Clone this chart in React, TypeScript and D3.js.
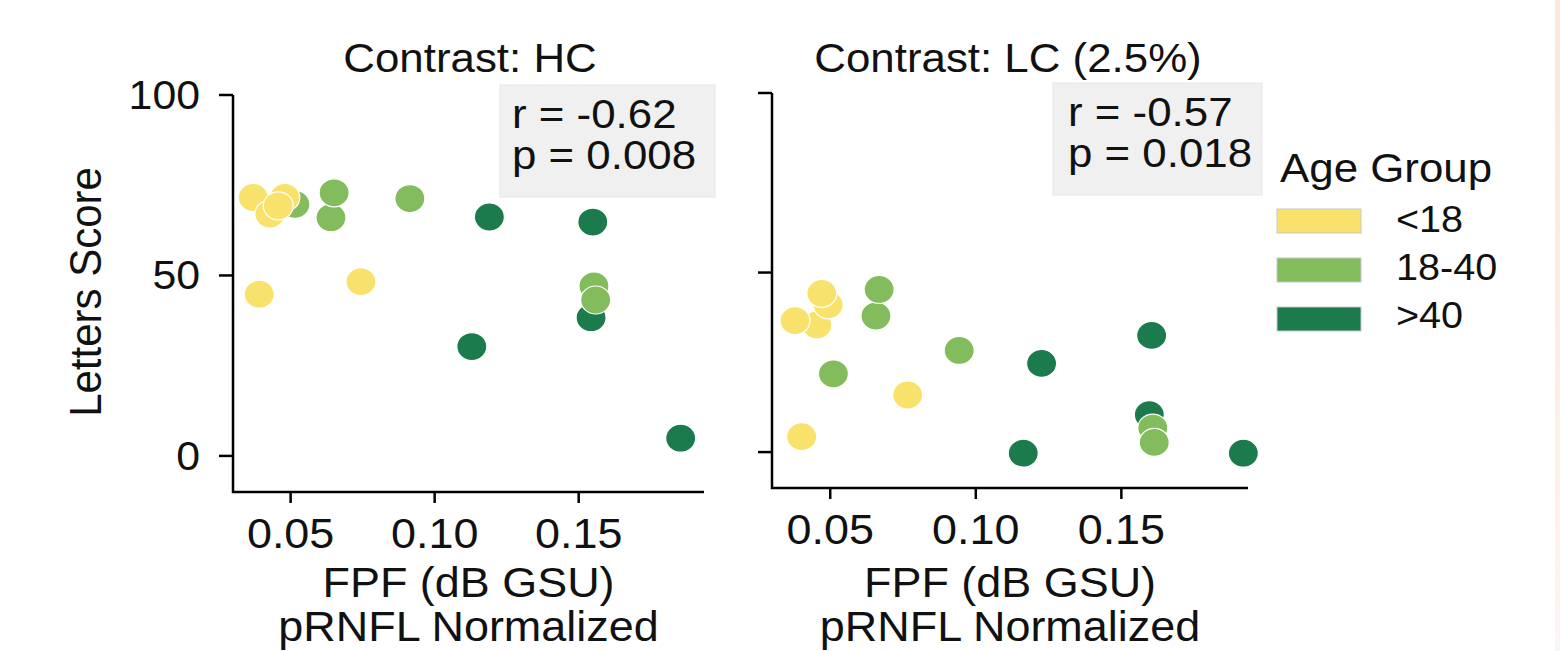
import React from 'react';
import * as d3 from 'd3';

// age groups and their colours
const groups = ['<18', '18-40', '>40'];
const groupColors = ['#f9e26c', '#83bc5c', '#1b7b4c'];

// Contrast: HC  (group index, FPF, letters score)
const hcGroup = [2, 2, 2, 2, 2, 1, 1, 1, 1, 1, 1, 0, 0, 0, 0, 0, 0];
const hcFpf = [0.119, 0.1549, 0.1543, 0.1129, 0.1854, 0.0515, 0.064, 0.0651, 0.0914, 0.1553, 0.1559, 0.037, 0.0428, 0.048, 0.0457, 0.0391, 0.0744];
const hcScore = [66.2, 64.8, 38.3, 30.3, 4.9, 69.7, 66.0, 72.9, 71.3, 47.1, 43.2, 71.6, 67.0, 71.6, 69.3, 44.8, 48.3];

// Contrast: LC (2.5%)
const lcGroup = [2, 2, 2, 2, 2, 1, 1, 1, 1, 1, 1, 0, 0, 0, 0, 0, 0];
const lcFpf = [0.1226, 0.1604, 0.1596, 0.1163, 0.1919, 0.0657, 0.0668, 0.0511, 0.0943, 0.1608, 0.1613, 0.0454, 0.0379, 0.0493, 0.0471, 0.0766, 0.0402];
const lcScore = [24.7, 32.5, 10.4, -0.3, -0.3, 37.9, 45.3, 21.8, 28.3, 6.7, 2.7, 35.4, 36.6, 41.0, 44.2, 15.9, 4.3];

const titles = ['Contrast: HC', 'Contrast: LC (2.5%)'];
const rValues = ['-0.62', '-0.57'];
const pValues = ['0.008', '0.018'];
const xTicks = [0.05, 0.1, 0.15];
const yTicks = [0, 50, 100];

const FONT = '"Liberation Sans", Arial, sans-serif';
const SX = 1.07; // the picture is a little wider than tall

const T = ({ x, y, size, anchor = 'start', rotate = 0, children }: any) => (
  <text
    transform={`translate(${x},${y}) scale(${SX},1)${rotate ? ` rotate(${rotate})` : ''}`}
    fontSize={size}
    fontFamily={FONT}
    textAnchor={anchor}
    fill="#111"
  >
    {children}
  </text>
);

const panels = [
  { left: 233, right: 704, top: 95, bottom: 492, titleX: 470, box: [500, 85, 215, 112], textX: 512, group: hcGroup, fpf: hcFpf, score: hcScore, yLabels: true },
  { left: 772, right: 1248, top: 93, bottom: 488, titleX: 1008, box: [1053, 83, 209, 112], textX: 1068, group: lcGroup, fpf: lcFpf, score: lcScore, yLabels: false },
];

function Panel({ p, i }: any) {
  const x = d3.scaleLinear().domain([0.03, 0.1935]).range([p.left, p.right]);
  const y = d3.scaleLinear().domain([-10, 100]).range([p.bottom, p.top]);
  const axisY = y(-10);
  return (
    <g>
      <T x={p.titleX} y={72} size={41} anchor="middle">{titles[i]}</T>

      {/* axes */}
      <path d={`M${x.range()[0]},${y(100)}V${axisY}H${x.range()[1]}`} fill="none" stroke="#000" strokeWidth={2.5} />
      {yTicks.map((t) => (
        <g key={'y' + t}>
          <line x1={x.range()[0] - 14} x2={x.range()[0]} y1={y(t)} y2={y(t)} stroke="#000" strokeWidth={2.5} />
          {p.yLabels && <T x={x.range()[0] - 33} y={y(t) + 14} size={40} anchor="end">{t}</T>}
        </g>
      ))}
      {xTicks.map((t) => (
        <g key={'x' + t}>
          <line x1={x(t)} x2={x(t)} y1={axisY} y2={axisY + 11} stroke="#000" strokeWidth={2.5} />
          <T x={x(t)} y={axisY + 56} size={42} anchor="middle">{d3.format('.2f')(t)}</T>
        </g>
      ))}
      <T x={(p.left + p.right) / 2} y={597} size={42} anchor="middle">FPF (dB GSU)</T>
      <T x={(p.left + p.right) / 2} y={641} size={42} anchor="middle">pRNFL Normalized</T>

      {/* points */}
      {p.fpf.map((v: number, k: number) => (
        <ellipse key={k} cx={x(v)} cy={y(p.score[k])} rx={15} ry={14}
          fill={groupColors[p.group[k]]} stroke="#fff" strokeWidth={1.2} />
      ))}

      {/* stats box */}
      <rect x={p.box[0]} y={p.box[1]} width={p.box[2]} height={p.box[3]} fill="#f0f0f0" stroke="#e6e6e6" strokeWidth={1} />
      <T x={p.textX} y={p.box[1] + 43} size={41}>{`r = ${rValues[i]}`}</T>
      <T x={p.textX} y={p.box[1] + 84} size={41}>{`p = ${pValues[i]}`}</T>
    </g>
  );
}

export default function App() {
  return (
    <svg width={1560} height={651} style={{ position: 'absolute', left: 0, top: 0, background: '#fff' }}>
      <defs>
        <linearGradient id="edge" x1="0" y1="0" x2="0" y2="1">
          <stop offset="0" stopColor="#fbe6d8" />
          <stop offset="1" stopColor="#fdf5f0" />
        </linearGradient>
      </defs>
      <rect x={0} y={0} width={1560} height={651} fill="#fff" />
      <rect x={1555} y={0} width={5} height={651} fill="url(#edge)" />

      <T x={101} y={292} size={42} anchor="middle" rotate={-90}>Letters Score</T>

      {panels.map((p, i) => <Panel key={i} p={p} i={i} />)}

      {/* legend */}
      <T x={1280} y={182} size={41}>Age Group</T>
      {groups.map((g, k) => (
        <g key={g}>
          <rect x={1277} y={209 + k * 49} width={84} height={24} fill={groupColors[k]} stroke="#c8c8c8" strokeWidth={1} />
          <T x={1396} y={232 + k * 48} size={37}>{g}</T>
        </g>
      ))}
    </svg>
  );
}
